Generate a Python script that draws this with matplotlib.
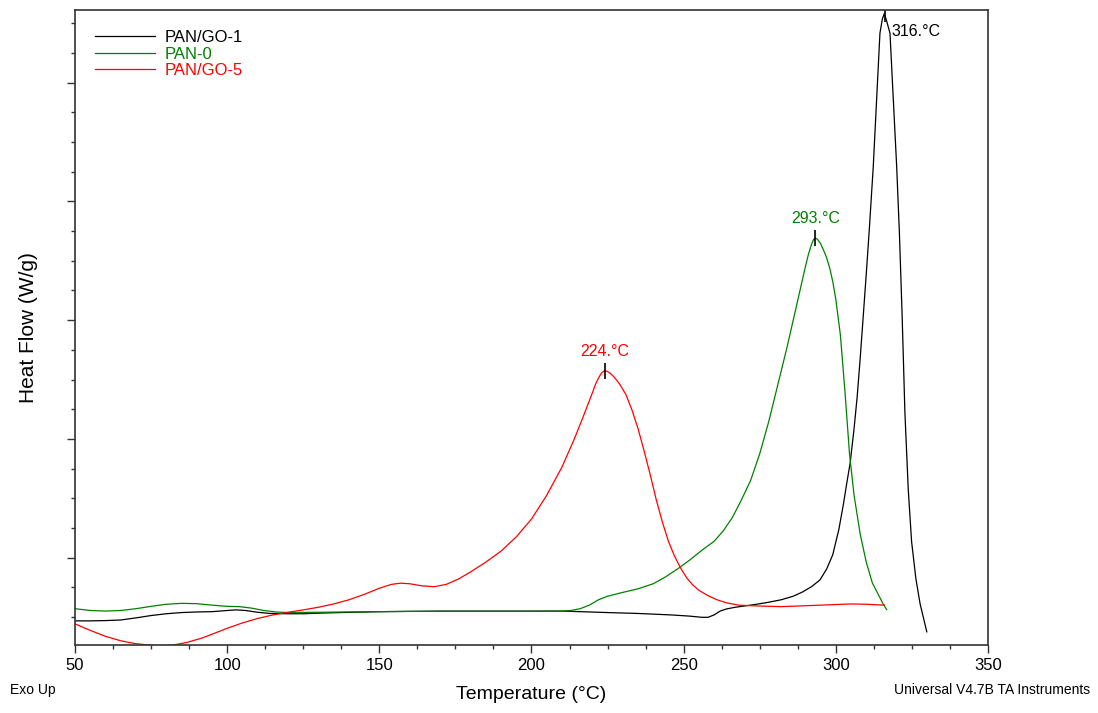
import matplotlib
matplotlib.use("Agg")
import matplotlib.pyplot as plt
from matplotlib.ticker import MultipleLocator

plt.rcParams['font.family'] = ['Liberation Sans', 'DejaVu Sans']

# PAN/GO-1 (black)
t_go1 = [50, 55, 60, 65, 70, 75, 80, 85, 90, 95, 100, 103, 106, 110, 114, 120, 125, 130, 137,
         150, 170, 190, 210, 225, 235, 246, 252, 256, 258, 260, 262, 264, 267, 272, 277, 282,
         286, 289, 292, 294.8, 297, 299, 301, 302.5, 303.6, 304.7, 306, 307, 308, 309, 310,
         311, 312.3, 313.4, 314.5, 315.3, 315.9, 316.5, 317.8, 318.9, 320.0, 320.9, 321.8,
         322.7, 323.8, 324.9, 326.3, 327.7, 329.9]
hf_go1 = [1.87, 1.87, 1.88, 1.90, 1.97, 2.05, 2.11, 2.15, 2.17, 2.18, 2.22, 2.24, 2.22, 2.16,
          2.12, 2.11, 2.11, 2.13, 2.15, 2.18, 2.20, 2.20, 2.20, 2.15, 2.12, 2.07, 2.03, 1.99,
          1.99, 2.07, 2.20, 2.27, 2.33, 2.40, 2.48, 2.58, 2.70, 2.84, 3.02, 3.25, 3.62, 4.10,
          4.95, 5.80, 6.51, 7.18, 8.35, 9.40, 10.70, 12.12, 13.55, 15.05, 17.17, 19.42, 21.67,
          22.15, 22.32, 22.15, 21.67, 19.42, 17.17, 14.93, 12.12, 8.9, 6.3, 4.54, 3.30, 2.44,
          1.50]

# PAN-0 (green)
t_pan0 = [50, 55, 60, 65, 70, 75, 80, 85, 90, 95, 100, 104, 108, 112, 116, 120, 130, 140, 160,
          180, 200, 210, 213, 216, 219, 222, 225, 230, 235, 240, 244, 248, 252, 256, 260, 263,
          266, 269, 272, 275, 278, 281, 284, 287, 290, 291, 292, 292.7, 293.3, 294, 295, 296,
          297, 298, 299, 300, 301.5, 303, 304.5, 306, 308, 310, 312, 314, 315.5, 316.7]
hf_pan0 = [2.28, 2.22, 2.20, 2.22, 2.28, 2.36, 2.43, 2.46, 2.45, 2.40, 2.36, 2.35, 2.30, 2.22,
           2.17, 2.15, 2.16, 2.17, 2.19, 2.19, 2.19, 2.20, 2.22, 2.28, 2.40, 2.58, 2.70, 2.83,
           2.95, 3.12, 3.35, 3.62, 3.92, 4.25, 4.55, 4.90, 5.35, 5.95, 6.60, 7.50, 8.60, 9.85,
           11.10, 12.45, 13.80, 14.22, 14.55, 14.72, 14.77, 14.72, 14.58, 14.35, 14.10, 13.75,
           13.30, 12.70, 11.50, 9.60, 7.50, 6.10, 4.80, 3.85, 3.15, 2.75, 2.45, 2.25]

# PAN/GO-5 (red)
t_go5 = [50, 55, 60, 65, 70, 75, 78, 82, 87, 92, 97, 100, 105, 110, 115, 120, 125, 130, 135,
         140, 145, 150, 154, 157, 160, 164, 168, 172, 176, 180, 185, 190, 195, 200, 205, 210,
         214, 217, 220, 221, 222, 223, 224, 225, 226, 227, 228, 229, 231, 233, 235, 237, 239,
         241, 243, 245, 247, 249, 251, 253, 255, 258, 261, 264, 268, 275, 282, 290, 300, 305,
         310, 316]
hf_go5 = [1.77, 1.55, 1.35, 1.20, 1.10, 1.05, 1.03, 1.05, 1.15, 1.30, 1.50, 1.62, 1.80, 1.95,
          2.07, 2.16, 2.24, 2.33, 2.44, 2.58, 2.76, 2.97, 3.10, 3.14, 3.12, 3.05, 3.02, 3.10,
          3.28, 3.52, 3.85, 4.22, 4.70, 5.30, 6.10, 7.05, 7.98, 8.75, 9.55, 9.83, 10.05, 10.22,
          10.30, 10.27, 10.20, 10.10, 9.98, 9.84, 9.50, 8.98, 8.35, 7.60, 6.80, 5.95, 5.20,
          4.55, 4.05, 3.65, 3.32, 3.08, 2.90, 2.72, 2.58, 2.48, 2.40, 2.37, 2.35, 2.38, 2.42,
          2.44, 2.43, 2.40]

# peak markers: temperature, heat flow, label
peaks = [(316.0, 22.32, "316.°C", "black"),
         (293.3, 14.77, "293.°C", "green"),
         (224.0, 10.30, "224.°C", "red")]

fig = plt.figure(figsize=(10.98, 7.13), dpi=100)
ax = fig.add_axes([0.0683, 0.0954, 0.8315, 0.8906])

ax.plot(t_go1, hf_go1, color="black", lw=0.9, label="PAN/GO-1")
ax.plot(t_pan0, hf_pan0, color="green", lw=0.9, label="PAN-0")
ax.plot(t_go5, hf_go5, color="red", lw=0.9, label="PAN/GO-5")

for t, h, lab, c in peaks:
    ax.plot([t], [h], marker="|", color="black", markersize=11, mew=1.2)
    if c == "black":
        ax.annotate(lab, (t, h), xytext=(5, -13), textcoords="offset points",
                    ha="left", va="center", color=c, fontsize=11.5)
    else:
        ax.annotate(lab, (t, h), xytext=(0, 14), textcoords="offset points",
                    ha="center", va="center", color=c, fontsize=11.5)

ax.set_xlim(50, 350)
ax.set_ylim(1.058, 22.45)
ax.xaxis.set_major_locator(MultipleLocator(50))
ax.xaxis.set_minor_locator(MultipleLocator(12.5))
ax.yaxis.set_major_locator(MultipleLocator(4))
ax.yaxis.set_minor_locator(MultipleLocator(1))
ax.tick_params(which="major", direction="out", length=6, width=1, colors="#333333",
               labelcolor="black", labelsize=12)
ax.tick_params(which="minor", direction="out", length=3, width=1, colors="#333333")
ax.tick_params(axis="y", labelleft=False)
for s in ax.spines.values():
    s.set_color("#333333")
    s.set_linewidth(1.2)

ax.set_xlabel("Temperature (°C)", fontsize=14, labelpad=9)
ax.set_ylabel("Heat Flow (W/g)", fontsize=15, labelpad=20)

ax.legend(loc="upper left", frameon=False, fontsize=12, handlelength=3.6,
          handletextpad=0.6, labelspacing=0.1, borderaxespad=0.8,
          labelcolor="linecolor")

fig.text(0.009, 0.032, "Exo Up", fontsize=10, ha="left", va="center")
fig.text(0.993, 0.032, "Universal V4.7B TA Instruments", fontsize=10, ha="right", va="center")

fig.savefig("out.png", dpi=100)
